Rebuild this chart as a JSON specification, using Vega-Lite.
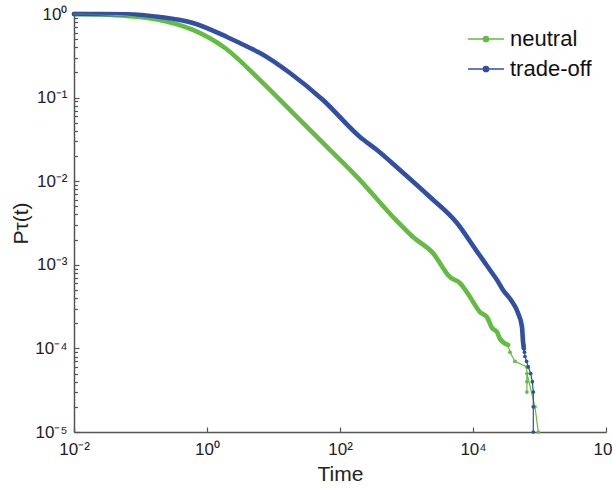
{
  "$schema": "https://vega.github.io/schema/vega-lite/v6.json",
  "width": 532,
  "height": 418,
  "autosize": {"type": "none"},
  "padding": {"left": 74, "top": 14, "right": 6, "bottom": 56},
  "background": "white",
  "data": {
    "values": [
      {"series": "neutral", "t": 0.01, "p": 1.0},
      {"series": "neutral", "t": 0.0246, "p": 0.985},
      {"series": "neutral", "t": 0.0627, "p": 0.946},
      {"series": "neutral", "t": 0.196, "p": 0.848},
      {"series": "neutral", "t": 0.616, "p": 0.644},
      {"series": "neutral", "t": 1.87, "p": 0.392},
      {"series": "neutral", "t": 6.27, "p": 0.162},
      {"series": "neutral", "t": 19.7, "p": 0.0654},
      {"series": "neutral", "t": 63.7, "p": 0.0257},
      {"series": "neutral", "t": 200, "p": 0.0103},
      {"series": "neutral", "t": 627, "p": 0.00373},
      {"series": "neutral", "t": 1253, "p": 0.00215},
      {"series": "neutral", "t": 2502, "p": 0.00138},
      {"series": "neutral", "t": 4505, "p": 0.000714},
      {"series": "neutral", "t": 6380, "p": 0.000605},
      {"series": "neutral", "t": 9020, "p": 0.000412},
      {"series": "neutral", "t": 12740, "p": 0.000272},
      {"series": "neutral", "t": 16240, "p": 0.000237},
      {"series": "neutral", "t": 19320, "p": 0.000176},
      {"series": "neutral", "t": 22960, "p": 0.000157},
      {"series": "neutral", "t": 25470, "p": 0.00013},
      {"series": "neutral", "t": 33600, "p": 0.00011},
      {"series": "neutral", "t": 36000, "p": 0.00009},
      {"series": "neutral", "t": 42800, "p": 0.00007},
      {"series": "neutral", "t": 64200, "p": 0.00006},
      {"series": "neutral", "t": 64900, "p": 0.00005},
      {"series": "neutral", "t": 64700, "p": 0.00004},
      {"series": "neutral", "t": 64700, "p": 0.00003},
      {"series": "neutral", "t": 85500, "p": 0.00002},
      {"series": "neutral", "t": 95900, "p": 0.00001},
      {"series": "trade-off", "t": 0.01, "p": 1.0},
      {"series": "trade-off", "t": 0.0246, "p": 0.999},
      {"series": "trade-off", "t": 0.0627, "p": 0.995},
      {"series": "trade-off", "t": 0.196, "p": 0.921},
      {"series": "trade-off", "t": 0.616, "p": 0.78},
      {"series": "trade-off", "t": 2.0, "p": 0.531},
      {"series": "trade-off", "t": 4.43, "p": 0.392},
      {"series": "trade-off", "t": 6.27, "p": 0.342},
      {"series": "trade-off", "t": 17.7, "p": 0.197},
      {"series": "trade-off", "t": 55.5, "p": 0.0936},
      {"series": "trade-off", "t": 200, "p": 0.0338},
      {"series": "trade-off", "t": 360, "p": 0.0236},
      {"series": "trade-off", "t": 798, "p": 0.0136},
      {"series": "trade-off", "t": 2255, "p": 0.00647},
      {"series": "trade-off", "t": 5745, "p": 0.00316},
      {"series": "trade-off", "t": 11090, "p": 0.0015},
      {"series": "trade-off", "t": 18000, "p": 0.000867},
      {"series": "trade-off", "t": 22960, "p": 0.000658},
      {"series": "trade-off", "t": 28250, "p": 0.0005},
      {"series": "trade-off", "t": 37240, "p": 0.000379},
      {"series": "trade-off", "t": 47500, "p": 0.000265},
      {"series": "trade-off", "t": 54600, "p": 0.00018},
      {"series": "trade-off", "t": 56500, "p": 0.00012},
      {"series": "trade-off", "t": 57400, "p": 0.00011},
      {"series": "trade-off", "t": 58000, "p": 0.0001},
      {"series": "trade-off", "t": 59400, "p": 0.00009},
      {"series": "trade-off", "t": 60500, "p": 0.00008},
      {"series": "trade-off", "t": 64000, "p": 0.00007},
      {"series": "trade-off", "t": 67900, "p": 0.00006},
      {"series": "trade-off", "t": 73800, "p": 0.00005},
      {"series": "trade-off", "t": 78000, "p": 0.00004},
      {"series": "trade-off", "t": 80700, "p": 0.00003},
      {"series": "trade-off", "t": 80700, "p": 0.00002},
      {"series": "trade-off", "t": 80700, "p": 0.00001}
    ]
  },
  "encoding": {
    "x": {
      "field": "t", "type": "quantitative",
      "scale": {"type": "log", "domain": [0.01, 1000000], "nice": false},
      "axis": {
        "title": "Time",
        "values": [0.01, 1, 100, 10000, 1000000],
        "labelExpr": "'10' + ['⁻²','⁻¹','⁰','¹','²','³','⁴','⁵','⁶'][round(log(datum.value)/LN10)+2]",
        "tickSize": -5,
        "labelPadding": 14,
        "titlePadding": 6,
        "labelFlush": false,
        "labelOverlap": false
      }
    },
    "y": {
      "field": "p", "type": "quantitative",
      "scale": {"type": "log", "domain": [0.00001, 1], "nice": false},
      "axis": {
        "title": "Pτ(t)",
        "values": [0.00001, 0.00002, 0.00003, 0.00004, 0.00005, 0.00006, 0.00007, 0.00008, 0.00009,
                   0.0001, 0.0002, 0.0003, 0.0004, 0.0005, 0.0006, 0.0007, 0.0008, 0.0009,
                   0.001, 0.002, 0.003, 0.004, 0.005, 0.006, 0.007, 0.008, 0.009,
                   0.01, 0.02, 0.03, 0.04, 0.05, 0.06, 0.07, 0.08, 0.09,
                   0.1, 0.2, 0.3, 0.4, 0.5, 0.6, 0.7, 0.8, 0.9, 1],
        "labelExpr": "abs(log(datum.value)/LN10 - round(log(datum.value)/LN10)) < 0.000001 ? '10' + ['⁻⁵','⁻⁴','⁻³','⁻²','⁻¹','⁰'][round(log(datum.value)/LN10)+5] : ''",
        "tickSize": {"condition": {"test": "abs(log(datum.value)/LN10 - round(log(datum.value)/LN10)) < 0.000001", "value": -5}, "value": -3.5},
        "labelPadding": 12,
        "titlePadding": 3,
        "labelFlush": false,
        "labelOverlap": false
      }
    },
    "color": {
      "field": "series", "type": "nominal",
      "scale": {"domain": ["neutral", "trade-off"], "range": ["#64BC43", "#3250A2"]},
      "legend": {
        "title": null,
        "orient": "none",
        "legendX": 393,
        "legendY": 6,
        "padding": 0,
        "symbolType": "M-1,0L1,0M-0.15,0A0.15,0.15,0,1,1,0.15,0A0.15,0.15,0,1,1,-0.15,0Z",
        "symbolSize": 1296,
        "symbolStrokeWidth": 1.3,
        "labelFontSize": 22,
        "labelColor": "#111",
        "labelOffset": 5,
        "rowPadding": -6
      }
    }
  },
  "layer": [
    {
      "transform": [{"filter": "datum.p >= 0.0001"}],
      "mark": {"type": "line", "strokeWidth": 4.6, "strokeCap": "round", "strokeJoin": "round", "interpolate": "monotone", "clip": false}
    },
    {
      "mark": {"type": "line", "strokeWidth": 1.2, "clip": false}
    },
    {
      "transform": [{"filter": "datum.p <= 0.00013"}],
      "mark": {"type": "point", "filled": true, "size": 14, "opacity": 1, "clip": false}
    }
  ],
  "config": {
    "view": {"stroke": null},
    "font": "Liberation Sans",
    "axis": {
      "grid": false,
      "domainColor": "#555",
      "domainWidth": 1.5,
      "tickColor": "#555",
      "tickWidth": 1.2,
      "labelColor": "#222",
      "titleColor": "#222",
      "labelFontSize": 17,
      "titleFontSize": 21,
      "titleFontWeight": "normal"
    }
  }
}
